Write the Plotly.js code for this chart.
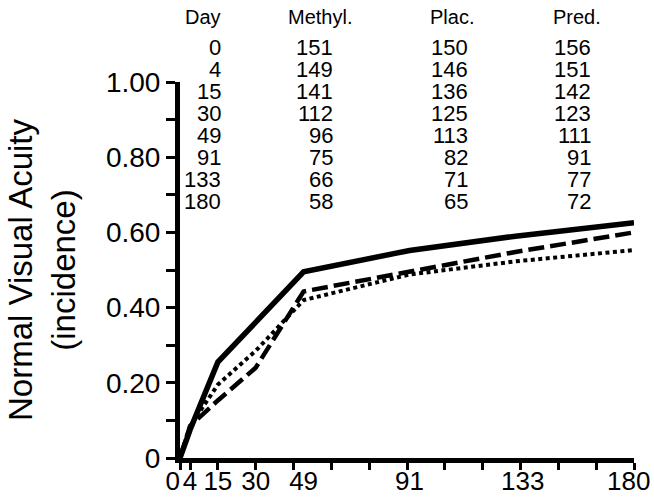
<!DOCTYPE html>
<html>
<head>
<meta charset="utf-8">
<script src="https://cdn.plot.ly/plotly-3.0.1.min.js"></script>
<style>html,body{margin:0;padding:0;background:#fff;}#chart{width:654px;height:500px;}</style>
</head>
<body>
<div id="chart"></div>
<script>
// ---- data ----
const days = [0, 4, 15, 30, 49, 91, 133, 180];
const methylN = [151, 149, 141, 112, 96, 75, 66, 58];
const placN = [150, 146, 136, 125, 113, 82, 71, 65];
const predN = [156, 151, 142, 123, 111, 91, 77, 72];
const tableHeaders = ["Day", "Methyl.", "Plac.", "Pred."];
// incidence curves
const solidY  = [0.0, 0.075, 0.255, 0.362, 0.495, 0.552, 0.590, 0.626];
const dashedY = [0.0, 0.085, 0.153, 0.240, 0.443, 0.495, 0.548, 0.600];
const dottedY = [0.0, 0.085, 0.195, 0.285, 0.420, 0.488, 0.523, 0.553];
const xTickText = ["0\u00a0\u00a0", "4", "15", "30", "49", "91", "\u00a0\u00a0133", "180\u2009\u2009"];
const xMinorTicks = [0, 4, 15, 30, 45, 60, 75, 90, 105, 120, 135, 150, 165, 180];
const yTickVals = [0, 0.2, 0.4, 0.6, 0.8, 1.0];
const yTickText = ["0", "0.20", "0.40", "0.60", "0.80", "1.00"];

// ---- layout geometry ----
const W = 654, H = 500;
const M = {l: 180, r: 20, t: 82, b: 42, pad: 0};
const PW = W - M.l - M.r, PH = H - M.t - M.b;
const px2x = p => (p - M.l) / PW;
const py2y = p => (H - M.b - p) / PH;
const FONT = "Liberation Sans, Arial, Helvetica, sans-serif";

const traces = [
  {x: days, y: solidY, name: "Methyl.", mode: "lines", line: {color: "#000", width: 5.5}},
  {x: days, y: dashedY, name: "Plac.", mode: "lines", line: {color: "#000", width: 4.5, dash: "16px,6px"}},
  {x: days, y: dottedY, name: "Pred.", mode: "lines", line: {color: "#000", width: 4, dash: "4px,3.5px"}}
];

// table annotations
const annotations = [];
const colRight = [223, 335, 470, 593];
const colHeadCenter = [206, 320, 452, 577];
const cols = [days, methylN, placN, predN];
tableHeaders.forEach((h, c) => {
  annotations.push({
    xref: "paper", yref: "paper", x: px2x(c === 0 ? colRight[0] : colHeadCenter[c]), y: py2y(17),
    xanchor: c === 0 ? "right" : "center", yanchor: "middle", showarrow: false,
    text: h, font: {family: FONT, size: 20, color: "#000"}
  });
});
cols.forEach((col, c) => {
  col.forEach((v, r) => {
    annotations.push({
      xref: "paper", yref: "paper", x: px2x(colRight[c]), y: py2y(47.5 + 22 * r),
      xanchor: "right", yanchor: "middle", showarrow: false,
      text: String(v), font: {family: FONT, size: 22, color: "#000"}
    });
  });
});

const layout = {
  width: W, height: H, margin: M,
  paper_bgcolor: "#fff", plot_bgcolor: "#fff",
  showlegend: false,
  font: {family: FONT, color: "#000"},
  xaxis: {
    range: [0, 180], showgrid: false, zeroline: false, automargin: false,
    showline: true, linecolor: "#000", linewidth: 5,
    tickmode: "array", tickvals: days, ticktext: xTickText, tickangle: 0,
    ticks: "", ticklabelstandoff: -4, ticklabeloverflow: "allow",
    tickfont: {family: FONT, size: 26, color: "#000"},
    minor: {tickmode: "array", tickvals: xMinorTicks, ticks: "outside", ticklen: 7, tickwidth: 3, tickcolor: "#000", showgrid: false}
  },
  yaxis: {
    range: [0, 1.0], showgrid: false, zeroline: false, automargin: false,
    showline: true, linecolor: "#000", linewidth: 5,
    tickmode: "array", tickvals: yTickVals, ticktext: yTickText,
    ticks: "outside", ticklen: 9, tickwidth: 3, tickcolor: "#000",
    tickfont: {family: FONT, size: 28, color: "#000"},
    minor: {tickmode: "linear", tick0: 0, dtick: 0.1, ticks: "outside", ticklen: 9, tickwidth: 3, tickcolor: "#000", showgrid: false},
    title: {text: "Normal Visual Acuity<br>(incidence)", font: {family: FONT, size: 33, color: "#000"}, standoff: 22}
  },
  annotations: annotations
};

Plotly.newPlot("chart", traces, layout, {staticPlot: true, displayModeBar: false});
</script>
</body>
</html>
